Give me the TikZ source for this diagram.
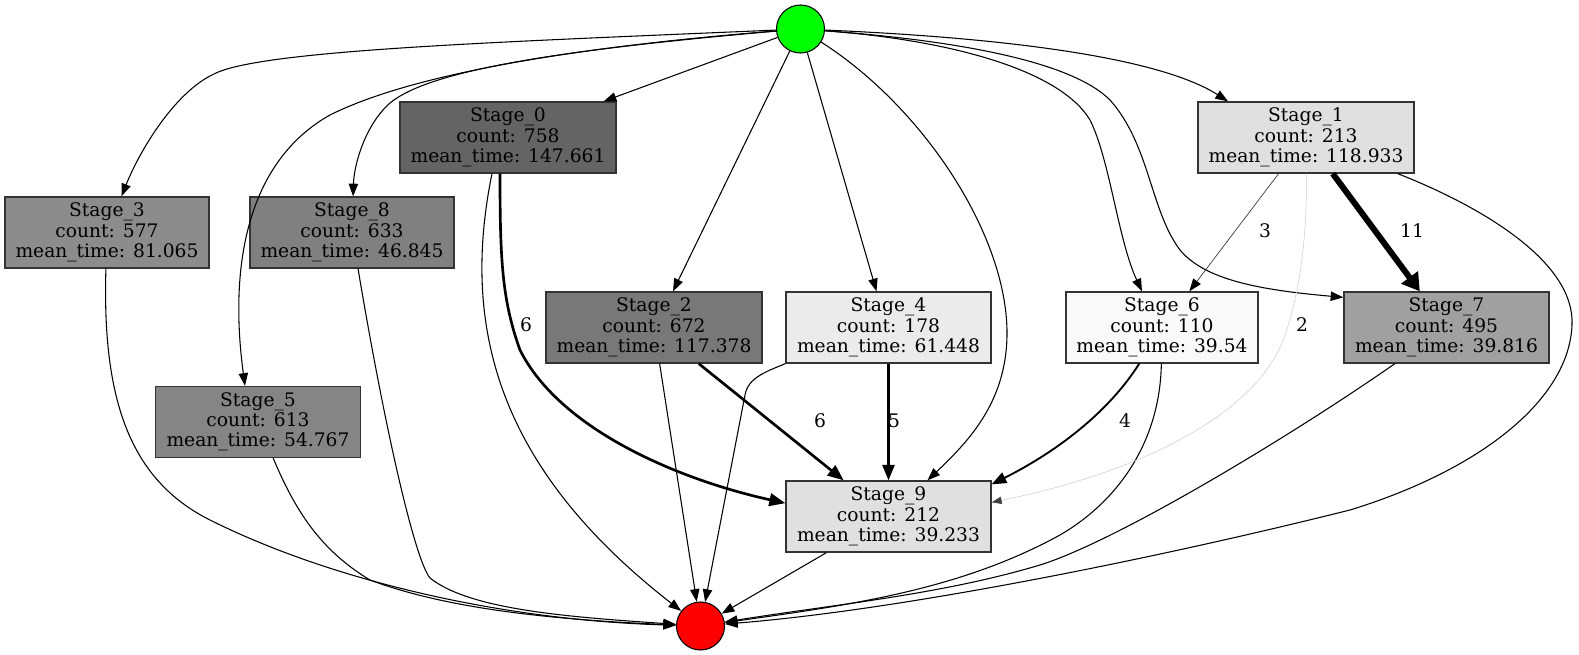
\documentclass[tikz,border=0pt]{standalone}
\usepackage{fontspec}
\setmainfont{DejaVu Serif}
\usetikzlibrary{arrows.meta}

\definecolor{startgreen}{HTML}{00FF00}
\definecolor{endred}{HTML}{FF0000}
\definecolor{boxline}{HTML}{333333}
\definecolor{fillA}{HTML}{646464}
\definecolor{fillB}{HTML}{787878}
\definecolor{fillC}{HTML}{808080}
\definecolor{fillD}{HTML}{858585}
\definecolor{fillE}{HTML}{8C8C8C}
\definecolor{fillF}{HTML}{A0A0A0}
\definecolor{fillG}{HTML}{E0E0E0}
\definecolor{fillH}{HTML}{EBEBEB}
\definecolor{fillI}{HTML}{F9F9F9}
\definecolor{faint}{HTML}{CCCCCC}

\tikzset{
  stage/.style={rectangle, draw=boxline, line width=1pt, minimum height=53.25pt,
    inner sep=0pt, align=center, font=\fontsize{14}{15.2}\selectfont},
  term/.style={circle, draw=black, line width=0.8pt, minimum size=36pt, inner sep=0pt},
  lbl/.style={inner sep=0pt, font=\fontsize{14}{15.2}\selectfont},
  flow/.style={draw=black, line width=0.8pt, -{Triangle[length=9.5pt,width=7pt]}},
  wsix/.style={draw=black, line width=2pt, -{Triangle[length=12pt,width=9.5pt]}},
  wfive/.style={draw=black, line width=1.7pt, -{Triangle[length=11.5pt,width=9pt]}},
  wfour/.style={draw=black, line width=1.4pt, -{Triangle[length=11pt,width=8.5pt]}},
  wthree/.style={draw=black!80, line width=0.5pt, -{Triangle[length=9.5pt,width=7pt,color=black]}},
  wtwo/.style={draw=faint, line width=0.4pt, -{Triangle[length=7.5pt,width=5.5pt,color=black!75]}},
  weleven/.style={draw=black, line width=4.5pt, -{Triangle[length=13pt,width=15pt]}},
}

\begin{document}
\begin{tikzpicture}[x=0.75pt,y=-0.75pt]
\path[use as bounding box] (0,0) rectangle (1579,655);

% terminals
\node[term, fill=startgreen] (st) at (800.5,29) {};
\node[term, fill=endred] (en) at (700.5,626) {};

% stages
\node[stage, fill=fillA, minimum width=162pt] (s0) at (508,137.5) {Stage\_0\\count: 758\\mean\_time: 147.661};
\node[stage, fill=fillG, minimum width=162pt] (s1) at (1306,137.5) {Stage\_1\\count: 213\\mean\_time: 118.933};
\node[stage, fill=fillE, minimum width=153pt] (s3) at (107,232.5) {Stage\_3\\count: 577\\mean\_time: 81.065};
\node[stage, fill=fillC, minimum width=153pt] (s8) at (352,232.5) {Stage\_8\\count: 633\\mean\_time: 46.845};
\node[stage, fill=fillB, minimum width=162pt] (s2) at (654,327.5) {Stage\_2\\count: 672\\mean\_time: 117.378};
\node[stage, fill=fillH, minimum width=153.75pt] (s4) at (888.5,327.5) {Stage\_4\\count: 178\\mean\_time: 61.448};
\node[stage, fill=fillI, minimum width=144pt] (s6) at (1162,327.5) {Stage\_6\\count: 110\\mean\_time: 39.54};
\node[stage, fill=fillF, minimum width=153.75pt] (s7) at (1446.5,327.5) {Stage\_7\\count: 495\\mean\_time: 39.816};
\node[stage, fill=fillD, minimum width=153.75pt] (s5) at (258,422) {Stage\_5\\count: 613\\mean\_time: 54.767};
\node[stage, fill=fillG, minimum width=153.75pt] (s9) at (888.5,516.5) {Stage\_9\\count: 212\\mean\_time: 39.233};

% edges out of the start node
\draw[flow] (st) .. controls (500,42) and (260,50) .. (214,74)
  .. controls (175,92) and (140,150) .. (s3);
\draw[flow] (st) .. controls (600,45) and (420,70) .. (330,115)
  .. controls (250,160) and (228,260) .. ([xshift=-9.75pt]s5.north);
\draw[flow] (st) .. controls (560,50) and (430,70) .. (390,103)
  .. controls (365,125) and (354,165) .. (s8);
\draw[flow] (st) -- ([xshift=-9.75pt]s0.north east);
\draw[flow] (st) -- ([xshift=14.25pt]s2.north);
\draw[flow] (st) -- ([xshift=-9pt]s4.north);
\draw[flow] (st) .. controls (920,105) and (1005,230) .. (1007,330)
  .. controls (1008,400) and (970,440) .. ([xshift=29.25pt]s9.north);
\draw[flow] (st) .. controls (950,40) and (1060,70) .. (1090,120)
  .. controls (1110,160) and (1118,240) .. ([xshift=-15pt]s6.north);
\draw[flow] (st) .. controls (950,40) and (1070,60) .. (1110,100)
  .. controls (1150,145) and (1150,210) .. (1180,250)
  .. controls (1205,280) and (1260,290) .. ([yshift=-4.5pt]s7.north west);
\draw[flow] (st) .. controls (1010,38) and (1160,58) .. ([xshift=-58.5pt]s1.north);

% Stage_0
\draw[wsix] ([xshift=-6pt]s0.south) .. controls (500,260) and (502,300) .. (520,350)
  .. controls (560,430) and (680,480) .. ([yshift=10pt]s9.west);
\draw[flow] ([xshift=-12pt]s0.south) .. controls (460,330) and (500,470) .. (en);

% left column into the end node
\draw[flow] (s3) .. controls (102,400) and (130,480) .. (210,520)
  .. controls (330,580) and (500,620) .. (en);
\draw[flow] (s5) .. controls (295,510) and (320,550) .. (370,580)
  .. controls (450,610) and (560,620) .. (en);
\draw[flow] (s8) .. controls (385,430) and (415,560) .. (430,578)
  .. controls (470,610) and (570,617) .. (en);

% Stage_2 and Stage_4
\draw[flow] (s2) -- (en);
\draw[wsix] (s2) -- (s9);
\draw[flow] (s4.south west) .. controls (765,372) and (748,378) .. (745,395) -- (en);
\draw[wfive] (s4) -- (s9);

% Stage_6
\draw[wfour] (s6) .. controls (1110,410) and (1060,450) .. ([yshift=-3pt]s9.north east);
\draw[flow] (s6) .. controls (1160,440) and (1120,500) .. (1060,535)
  .. controls (960,590) and (850,605) .. (en);

% Stage_7
\draw[flow] (s7) .. controls (1300,430) and (1120,540) .. (1040,565)
  .. controls (940,595) and (830,605) .. (en);

% Stage_1
\draw[wthree] (s1) -- (s6);
\draw[weleven] (s1) -- (s7);
\draw[wtwo] (s1) .. controls (1307,240) and (1300,290) .. (1285,335)
  .. controls (1260,410) and (1150,470) .. ([yshift=-16.5pt]s9.north east);
\draw[flow] (s1) .. controls (1490,210) and (1575,265) .. (1572,325)
  .. controls (1569,400) and (1480,470) .. (1350,510)
  .. controls (1150,560) and (900,610) .. (en);

% Stage_9
\draw[flow] (s9) -- (en);

% edge weights
\node[lbl] (w09) at (526,325) {6};
\node[lbl] (w29) at (820,421) {6};
\node[lbl] (w49) at (894,421) {5};
\node[lbl] (w69) at (1125,421) {4};
\node[lbl] (w16) at (1265,231) {3};
\node[lbl] (w17) at (1412,231) {11};
\node[lbl] (w19) at (1302,325) {2};
\end{tikzpicture}
\end{document}
